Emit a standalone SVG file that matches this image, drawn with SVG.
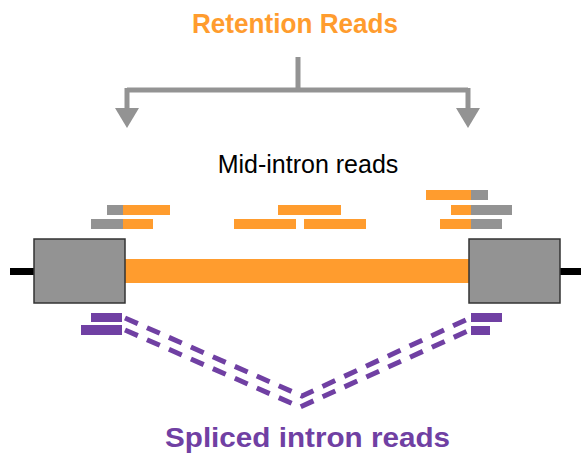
<svg xmlns="http://www.w3.org/2000/svg" width="581" height="455" viewBox="0 0 581 455">
  <style>
    .title { font-family: "Liberation Sans", Arial, sans-serif; font-weight: bold; font-size: 28px; }
    .label { font-family: "Liberation Sans", Arial, sans-serif; font-size: 25px; text-anchor: middle; fill: #000; }
    .orange { fill: #FF9C2E; }
    .gray { fill: #939393; }
    .purple { fill: #7040A3; }
    .exon { fill: #939393; stroke: #333; stroke-width: 1.5; }
    .splice { fill: none; stroke: #7040A3; stroke-width: 5; stroke-dasharray: 14 10; }
  </style>

  <!-- headings -->
  <text class="title" x="192" y="33" textLength="206" lengthAdjust="spacingAndGlyphs" fill="#FF9C2E">Retention Reads</text>
  <text class="label" x="308" y="173">Mid-intron reads</text>
  <text class="title" x="165" y="447" textLength="285" lengthAdjust="spacingAndGlyphs" fill="#7040A3">Spliced intron reads</text>

  <!-- branching arrow to both intron ends -->
  <g id="connectors">
    <path d="M298,57 V90 M127,90 H468 M127,88 V110 M468,88 V110" fill="none" stroke="#939393" stroke-width="5"/>
    <polygon points="115,108 139,108 127,128" fill="#939393"/>
    <polygon points="456,108 480,108 468,128" fill="#939393"/>
    <!-- split reads spanning the intron -->
    <path class="splice" d="M125,318 L302,396 L470,318"/>
    <path class="splice" d="M125,330 L300,407 L470,330"/>
  </g>

  <!-- gene model -->
  <g id="gene">
    <rect x="10" y="268" width="26" height="7" fill="#000"/>
    <rect x="558" y="268" width="23" height="7" fill="#000"/>
    <rect class="orange" x="124" y="259" width="346" height="24"/>
    <rect id="exon-left" class="exon" x="34" y="239" width="91" height="64"/>
    <rect id="exon-right" class="exon" x="469" y="239" width="91" height="64"/>
  </g>

  <!-- reads overlapping the left exon-intron boundary -->
  <g id="reads-left">
    <rect class="gray" x="107" y="205" width="16" height="10"/>
    <rect class="orange" x="123" y="205" width="47" height="10"/>
    <rect class="gray" x="91" y="219" width="32" height="10"/>
    <rect class="orange" x="123" y="219" width="30" height="10"/>
  </g>

  <!-- reads inside the intron -->
  <g id="reads-mid">
    <rect class="orange" x="278" y="205" width="63" height="10"/>
    <rect class="orange" x="234" y="219" width="62" height="10"/>
    <rect class="orange" x="304" y="219" width="62" height="10"/>
  </g>

  <!-- reads overlapping the right intron-exon boundary -->
  <g id="reads-right">
    <rect class="orange" x="426" y="190" width="45" height="10"/>
    <rect class="gray" x="471" y="190" width="17" height="10"/>
    <rect class="orange" x="451" y="205" width="20" height="10"/>
    <rect class="gray" x="471" y="205" width="41" height="10"/>
    <rect class="orange" x="440" y="219" width="31" height="10"/>
    <rect class="gray" x="471" y="219" width="31" height="10"/>
  </g>

  <!-- spliced read pieces next to each exon -->
  <g id="splice-left">
    <rect class="purple" x="91" y="313" width="31" height="9"/>
    <rect class="purple" x="81" y="325" width="41" height="10"/>
  </g>
  <g id="splice-right">
    <rect class="purple" x="471" y="313" width="31" height="9"/>
    <rect class="purple" x="471" y="326" width="19" height="9"/>
  </g>
</svg>
